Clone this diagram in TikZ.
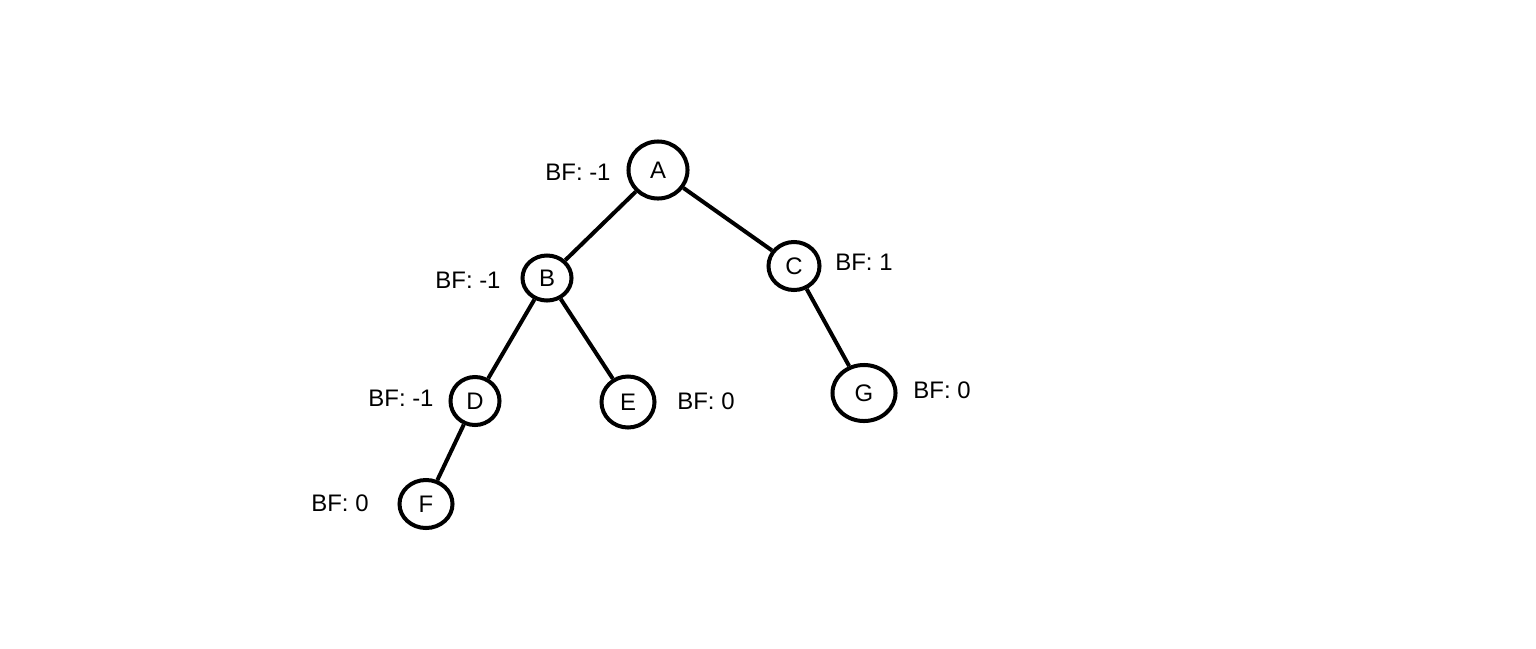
\documentclass[tikz,border=0pt]{standalone}
\usepackage{fontspec}
\setmainfont{Liberation Sans}
\usetikzlibrary{shapes.geometric}
\begin{document}
\begin{tikzpicture}[x=0.01cm,y=-0.01cm,
  treenode/.style={draw=black, line width=0.04cm, ellipse, inner sep=0pt,
    font=\fontsize{6.8pt}{7.5pt}\selectfont},
  bflabel/.style={font=\fontsize{6.8pt}{7.5pt}\selectfont, inner sep=0pt},
  edge/.style={draw=black, line width=0.04cm}]
\useasboundingbox (0,0) rectangle (1536,648);
% tree nodes
\node[treenode, minimum width=0.59cm, minimum height=0.57cm] (A) at (658,170) {A};
\node[treenode, minimum width=0.49cm, minimum height=0.45cm] (B) at (547,278) {B};
\node[treenode, minimum width=0.51cm, minimum height=0.48cm] (C) at (794,266) {C};
\node[treenode, minimum width=0.49cm, minimum height=0.48cm] (D) at (475,401) {D};
\node[treenode, minimum width=0.53cm, minimum height=0.51cm] (E) at (628,402) {E};
\node[treenode, minimum width=0.63cm, minimum height=0.56cm] (G) at (864,393) {G};
\node[treenode, minimum width=0.53cm, minimum height=0.48cm] (F) at (426,504) {F};
% edges
\draw[edge] (A) -- (B);
\draw[edge] (A) -- (C);
\draw[edge] (B) -- (D);
\draw[edge] (B) -- (E);
\draw[edge] (C) -- (G);
\draw[edge] (D) -- (F);
% balance factors
\node[bflabel] (lA) at (578,172) {BF: -1};
\node[bflabel] (lB) at (468,280) {BF: -1};
\node[bflabel] (lC) at (864,262) {BF: 1};
\node[bflabel] (lD) at (401,398) {BF: -1};
\node[bflabel] (lE) at (706,401) {BF: 0};
\node[bflabel] (lG) at (942,390) {BF: 0};
\node[bflabel] (lF) at (340,503) {BF: 0};
\end{tikzpicture}
\end{document}
